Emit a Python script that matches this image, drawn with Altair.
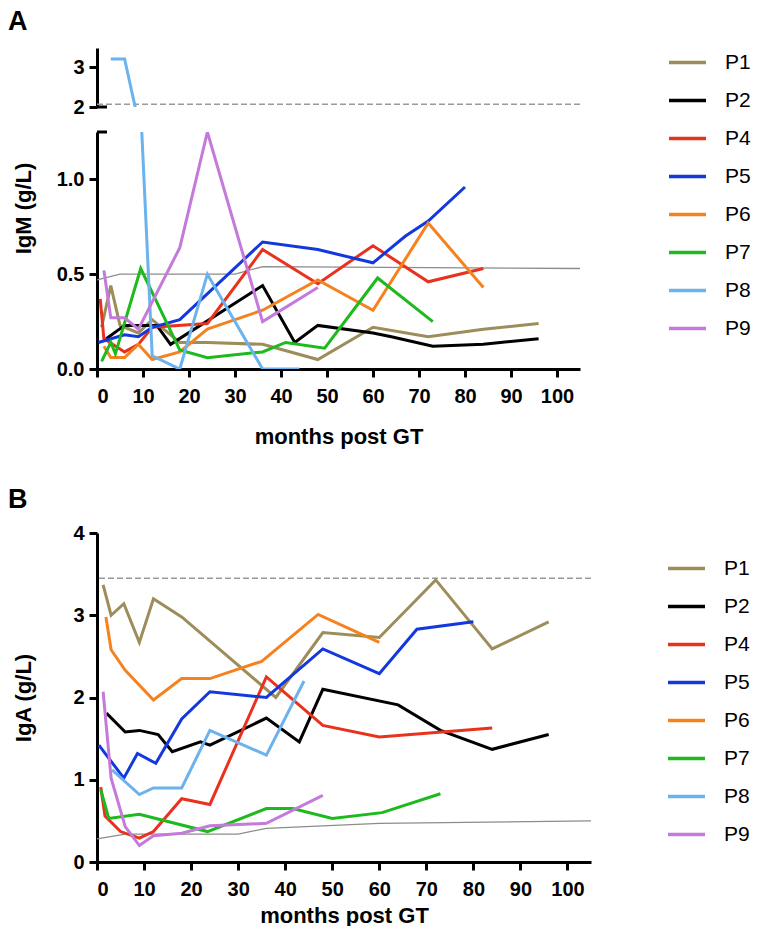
import altair as alt
import pandas as pd

PATIENTS = ["P1", "P2", "P4", "P5", "P6", "P7", "P8", "P9"]
COLORS = ["#9C8D5B", "#000000", "#E8321E", "#1238DE", "#F5821F", "#1DB91D", "#6CB2EC", "#C47ADB"]
X_TICKS = [0, 10, 20, 30, 40, 50, 60, 70, 80, 90, 100]

# ---------------- IgM (g/L) ----------------
IGM_P1_M = [1, 3, 5, 9, 12, 18, 24, 36, 48, 60, 72, 84, 96]
IGM_P1_V = [0.22, 0.44, 0.23, 0.19, 0.26, 0.14, 0.14, 0.13, 0.05, 0.22, 0.17, 0.21, 0.24]
IGM_P2_M = [2, 6, 13, 16, 36, 43, 48, 60, 64, 73, 84, 96]
IGM_P2_V = [0.16, 0.23, 0.23, 0.13, 0.44, 0.14, 0.23, 0.19, 0.17, 0.12, 0.13, 0.16]
IGM_P4_M = [0.7, 1.5, 6, 9, 12, 24, 36, 48, 60, 72, 84]
IGM_P4_V = [0.37, 0.16, 0.09, 0.13, 0.22, 0.24, 0.63, 0.45, 0.65, 0.46, 0.53]
IGM_P5_M = [0.3, 6, 9, 12, 18, 36, 48, 60, 67, 72, 80]
IGM_P5_V = [0.14, 0.18, 0.17, 0.22, 0.26, 0.67, 0.63, 0.56, 0.70, 0.78, 0.96]
IGM_P6_M = [1.5, 3, 6, 9, 12, 18, 24, 36, 48, 60, 72, 84]
IGM_P6_V = [0.12, 0.06, 0.06, 0.13, 0.05, 0.09, 0.21, 0.31, 0.47, 0.31, 0.77, 0.43]
IGM_P7_M = [1, 3, 4, 9.5, 18, 24, 36, 41, 49.5, 61, 73]
IGM_P7_V = [0.04, 0.14, 0.08, 0.53, 0.10, 0.06, 0.09, 0.14, 0.11, 0.48, 0.25]
IGM_P8_M = [3, 6, 12, 18, 24, 36, 44]
IGM_P8_V = [3.2, 3.2, 0.07, 0.0, 0.5, 0.0, 0.0]
IGM_P9_M = [1.5, 3, 6, 9, 18, 24, 36, 48]
IGM_P9_V = [0.52, 0.27, 0.27, 0.21, 0.64, 1.25, 0.25, 0.43]
IGM_NORM_LOW_M = [0, 5, 30, 36, 105]
IGM_NORM_LOW_V = [0.47, 0.50, 0.50, 0.54, 0.53]
IGM_NORM_HIGH = 2.07

# ---------------- IgA (g/L) ----------------
IGA_P1_M = [1.3, 3, 5.7, 9, 12, 18, 38, 48, 60, 72, 84, 96]
IGA_P1_V = [3.37, 3.0, 3.14, 2.67, 3.2, 2.98, 2.0, 2.79, 2.73, 3.43, 2.59, 2.92]
IGA_P2_M = [2, 6, 9, 13, 16, 22, 24, 36, 43, 48, 64, 73, 84, 96]
IGA_P2_V = [1.81, 1.58, 1.6, 1.55, 1.34, 1.46, 1.42, 1.75, 1.46, 2.1, 1.91, 1.6, 1.37, 1.55]
IGA_P4_M = [0.8, 1.7, 5, 9, 12, 18, 24, 36, 48, 60, 84]
IGA_P4_V = [0.91, 0.56, 0.37, 0.29, 0.37, 0.77, 0.70, 2.25, 1.66, 1.52, 1.63]
IGA_P5_M = [0.4, 5.7, 8.6, 12.5, 18, 24, 36, 48, 60, 68, 80]
IGA_P5_V = [1.42, 1.02, 1.32, 1.2, 1.74, 2.07, 2.0, 2.59, 2.29, 2.83, 2.92]
IGA_P6_M = [1.9, 3, 6, 12, 18, 24, 35, 47, 60]
IGA_P6_V = [2.98, 2.58, 2.33, 1.97, 2.23, 2.23, 2.44, 3.01, 2.67]
IGA_P7_M = [0.8, 2.5, 9, 23.5, 36, 41.6, 50, 60.6, 73]
IGA_P7_V = [0.88, 0.53, 0.58, 0.37, 0.65, 0.65, 0.53, 0.6, 0.83]
IGA_P8_M = [3.2, 9, 12, 18, 24, 36, 44]
IGA_P8_V = [1.12, 0.82, 0.9, 0.9, 1.6, 1.3, 2.2]
IGA_P9_M = [1.3, 3, 6, 9, 12, 18, 24, 36, 48]
IGA_P9_V = [2.07, 1.02, 0.43, 0.2, 0.32, 0.35, 0.44, 0.47, 0.81]
IGA_NORM_LOW_M = [0, 6, 30, 36, 60, 105]
IGA_NORM_LOW_V = [0.28, 0.34, 0.34, 0.41, 0.47, 0.50]
IGA_NORM_HIGH = 3.45


def long_df(series):
    rows = []
    for name, ms, vs in series:
        for m, v in zip(ms, vs):
            rows.append({"patient": name, "month": m, "value": v})
    return pd.DataFrame(rows)


igm = long_df([
    ("P1", IGM_P1_M, IGM_P1_V), ("P2", IGM_P2_M, IGM_P2_V), ("P4", IGM_P4_M, IGM_P4_V),
    ("P5", IGM_P5_M, IGM_P5_V), ("P6", IGM_P6_M, IGM_P6_V), ("P7", IGM_P7_M, IGM_P7_V),
    ("P8", IGM_P8_M, IGM_P8_V), ("P9", IGM_P9_M, IGM_P9_V),
])
iga = long_df([
    ("P1", IGA_P1_M, IGA_P1_V), ("P2", IGA_P2_M, IGA_P2_V), ("P4", IGA_P4_M, IGA_P4_V),
    ("P5", IGA_P5_M, IGA_P5_V), ("P6", IGA_P6_M, IGA_P6_V), ("P7", IGA_P7_M, IGA_P7_V),
    ("P8", IGA_P8_M, IGA_P8_V), ("P9", IGA_P9_M, IGA_P9_V),
])
igm_norm = pd.DataFrame({"month": IGM_NORM_LOW_M, "value": IGM_NORM_LOW_V})
iga_norm = pd.DataFrame({"month": IGA_NORM_LOW_M, "value": IGA_NORM_LOW_V})
one = pd.DataFrame({"a": [0]})

FONT = "Liberation Sans"
W_A = 483
W_B = 494
H_A_TOP = 59
H_A_BOT = 237
H_GAP = 114
H_B = 329
LINE_W = 3


def legend(x, y):
    return alt.Legend(
        title=None, orient="none", legendX=x, legendY=y, symbolType="stroke",
        symbolSize=1369, symbolStrokeWidth=3.5, labelFontSize=21, labelFont=FONT,
        labelColor="black", labelOffset=17, rowPadding=7, padding=0,
    )


def color_enc(leg):
    return alt.Color("patient:N", scale=alt.Scale(domain=PATIENTS, range=COLORS), legend=leg)


x_no_axis = alt.X("month:Q", scale=alt.Scale(domain=[0, 105], nice=False), axis=None)


def x_axis(title_pad):
    return alt.X(
        "month:Q", scale=alt.Scale(domain=[0, 105], nice=False),
        axis=alt.Axis(values=X_TICKS, title="months post GT", titlePadding=title_pad, labelPadding=9),
    )


# ---------- Panel A, upper segment (2 - 3.5) ----------
yA_top = alt.Y("value:Q", scale=alt.Scale(domain=[2, 3.475], nice=False, zero=False),
               axis=alt.Axis(values=[2, 3], format="d", title=None))
a_top_dash = alt.Chart(one).mark_rule(color="#9a9a9a", strokeWidth=1.4, strokeDash=[6, 3]).encode(
    y=alt.datum(IGM_NORM_HIGH))
a_top_lines = alt.Chart(igm).mark_line(strokeWidth=LINE_W, clip=True).encode(
    x=x_no_axis, y=yA_top, color=color_enc(legend(570, -6)))
a_top_cap = alt.Chart(one).mark_rule(color="black", strokeWidth=3).encode(
    x=alt.value(0), x2=alt.value(10), y=alt.datum(2))
a_label = alt.Chart(one).mark_text(text="A", font=FONT, fontSize=27, fontWeight="bold",
                                   align="left", baseline="alphabetic", color="black").encode(
    x=alt.value(-89), y=alt.value(-18))
a_top = alt.layer(a_top_dash, a_top_lines, a_top_cap, a_label).properties(width=W_A, height=H_A_TOP)

# ---------- Panel A, lower segment (0 - 1.25) ----------
yA_bot = alt.Y("value:Q", scale=alt.Scale(domain=[0, 1.25], nice=False),
               axis=alt.Axis(values=[0, 0.5, 1.0], format=".1f", title="IgM (g/L)",
                             titleX=-62, titleY=76, titleBaseline="bottom"))
a_bot_norm = alt.Chart(igm_norm).mark_line(color="#8c8c8c", strokeWidth=1.3, clip=True).encode(
    x=x_axis(20), y=yA_bot)
a_bot_lines = alt.Chart(igm).mark_line(strokeWidth=LINE_W, clip=True).encode(
    x=x_axis(20), y=yA_bot, color=color_enc(None))
a_bot_cap = alt.Chart(one).mark_rule(color="black", strokeWidth=3).encode(
    x=alt.value(0), x2=alt.value(10), y=alt.datum(1.25))
a_bot = alt.layer(a_bot_norm, a_bot_lines, a_bot_cap).properties(width=W_A, height=H_A_BOT)

# ---------- empty spacer between the panels ----------
spacer = alt.Chart(one).mark_point(opacity=0).encode(
    x=alt.value(0), y=alt.value(0)).properties(width=W_A, height=H_GAP)

# ---------- Panel B ----------
yB = alt.Y("value:Q", scale=alt.Scale(domain=[0, 4], nice=False),
           axis=alt.Axis(values=[0, 1, 2, 3, 4], format="d", title="IgA (g/L)",
                         titleX=-62, titleBaseline="bottom"))
b_norm = alt.Chart(iga_norm).mark_line(color="#8c8c8c", strokeWidth=1.3).encode(x=x_axis(6), y=yB)
b_dash = alt.Chart(one).mark_rule(color="#9a9a9a", strokeWidth=1.4, strokeDash=[6, 3]).encode(
    y=alt.datum(IGA_NORM_HIGH))
b_lines = alt.Chart(iga).mark_line(strokeWidth=LINE_W, clip=True).encode(
    x=x_axis(6), y=yB, color=color_enc(legend(569, 15)))
b_label = alt.Chart(one).mark_text(text="B", font=FONT, fontSize=27, fontWeight="bold",
                                   align="left", baseline="alphabetic", color="black").encode(
    x=alt.value(-89), y=alt.value(-25))
panel_b = alt.layer(b_norm, b_dash, b_lines, b_label).properties(width=W_B, height=H_B)

chart = alt.vconcat(a_top, a_bot, spacer, panel_b, spacing=25, bounds="flush").resolve_scale(
    y="independent", color="independent").resolve_legend(color="independent").properties(
    padding=0
).configure_view(stroke=None).configure_axis(
    labelFont=FONT, labelFontSize=20, labelFontWeight="bold", labelColor="black",
    titleFont=FONT, titleFontSize=22, titleFontWeight="bold", titleColor="black",
    domainColor="black", domainWidth=3, tickColor="black", tickWidth=3, tickSize=8,
    labelPadding=5, grid=False,
)

chart.save("out.html", embed_options={"renderer": "svg", "actions": False})
